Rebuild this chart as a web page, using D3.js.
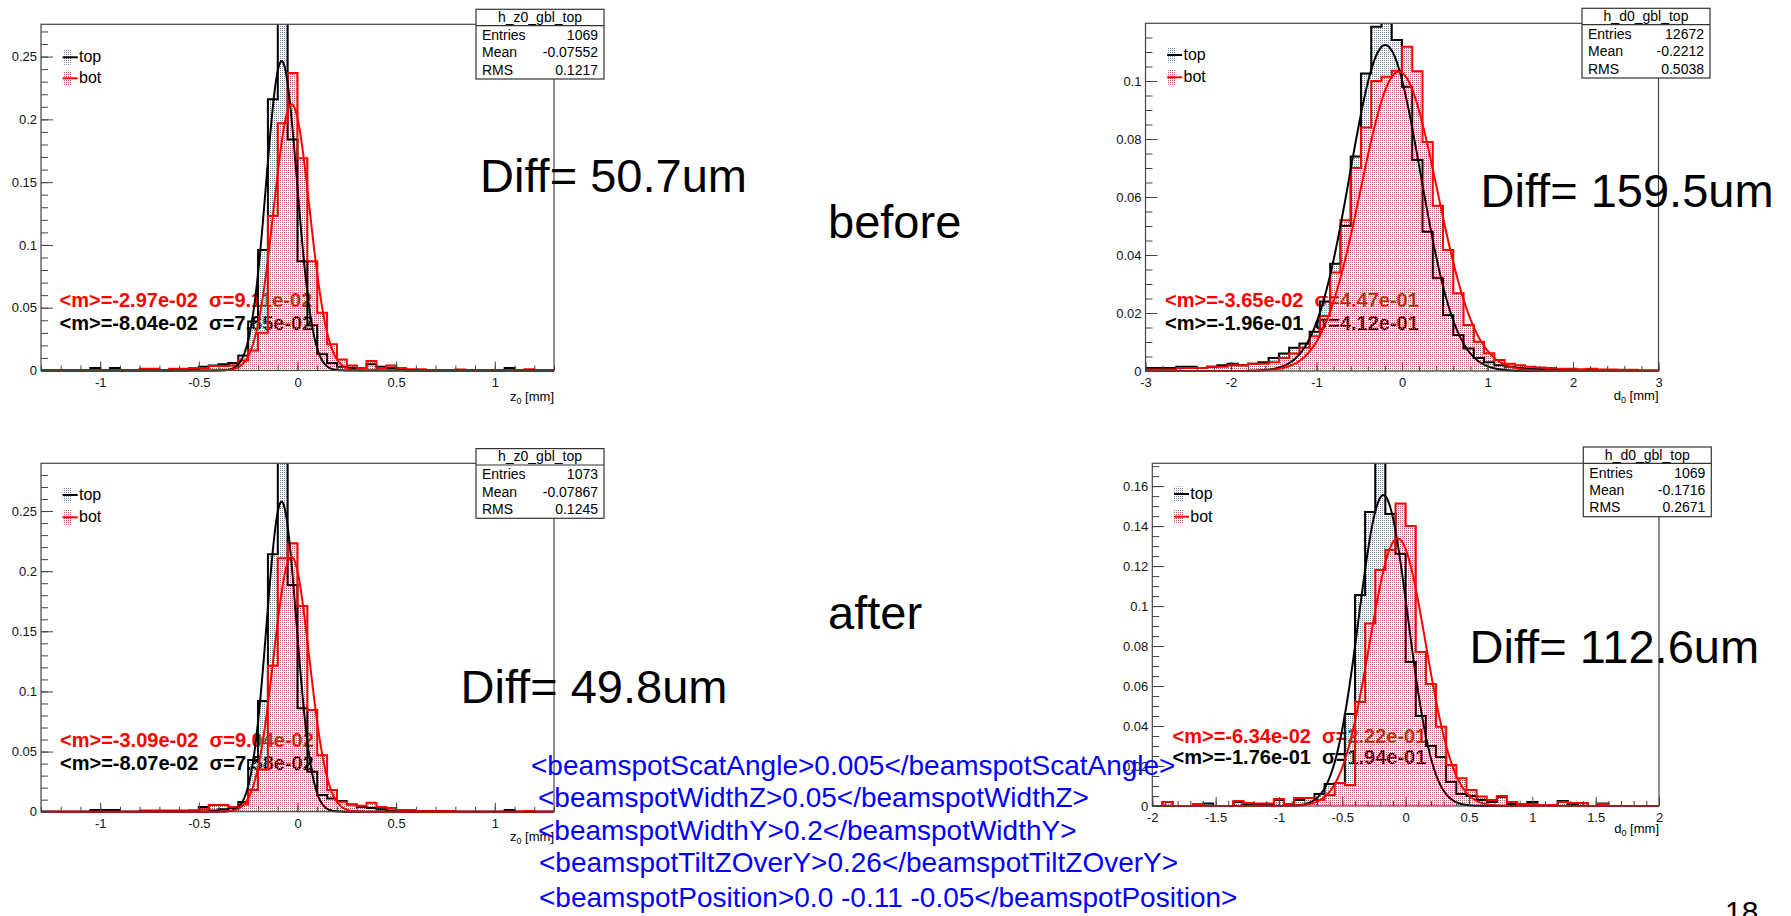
<!DOCTYPE html>
<html>
<head>
<meta charset="utf-8">
<script src="https://cdn.jsdelivr.net/npm/d3@7"></script>
<style>
  body { margin: 0; background: #fff; }
  svg { display: block; font-family: "Liberation Sans", Arial, Helvetica, sans-serif; }
</style>
</head>
<body>
<svg id="slide" width="1791" height="916"></svg>
<script>
// ---------- values ----------
// bin ranges: z0 has 52 bins of 0.05 mm, d0 before 50 bins of 0.12 mm, d0 after 50 bins of 0.08 mm
const z0Range = [-1.3, 1.3];
const d0BeforeRange = [-3, 3];
const d0AfterRange = [-2, 2];

const z0BeforeTop = [
  0, 0, 0, 0, 0, 0.002, 0, 0.002, 0, 0,
  0, 0, 0, 0, 0, 0.001, 0.003, 0.004, 0.005, 0.006,
  0.012, 0.039, 0.096, 0.216, 0.28, 0.184, 0.087, 0.036, 0.013, 0.006,
  0.003, 0.002, 0.002, 0.005, 0.003, 0.002, 0.001, 0, 0, 0,
  0, 0, 0, 0, 0, 0, 0, 0.002, 0, 0,
  0, 0];
const z0BeforeBot = [
  0, 0, 0, 0, 0, 0, 0, 0, 0, 0,
  0.0013, 0.0013, 0, 0.0013, 0.0013, 0.002, 0.002, 0.0035, 0.0035, 0.004,
  0.008, 0.016, 0.03, 0.123, 0.197, 0.237, 0.169, 0.087, 0.046, 0.021,
  0.0087, 0.004, 0.002, 0.0075, 0.002, 0.004, 0.002, 0.001, 0.001, 0,
  0, 0, 0.0008, 0, 0, 0, 0, 0, 0, 0.001,
  0, 0];

const d0BeforeTop = [
  0.001, 0.001, 0.001, 0.0015, 0.0015, 0.001, 0.0015, 0.002, 0.0025, 0.002,
  0.0025, 0.003, 0.0045, 0.006, 0.008, 0.0095, 0.0135, 0.024, 0.037, 0.050,
  0.074, 0.1026, 0.1187, 0.1215, 0.1141, 0.098, 0.0728, 0.048, 0.032, 0.0193,
  0.0124, 0.0078, 0.0045, 0.003, 0.002, 0.0015, 0.001, 0.0008, 0.0006, 0.0005,
  0.0005, 0.0004, 0.0003, 0.0003, 0.0002, 0.0002, 0.0002, 0.0001, 0.0001, 0.0001];
const d0BeforeBot = [
  0.0005, 0.0005, 0.0005, 0.001, 0.001, 0.001, 0.0015, 0.0015, 0.002, 0.002,
  0.0025, 0.0025, 0.003, 0.0045, 0.006, 0.008, 0.012, 0.019, 0.034, 0.052,
  0.070, 0.084, 0.100, 0.1015, 0.1035, 0.1118, 0.1034, 0.079, 0.057, 0.0417,
  0.0268, 0.0159, 0.0101, 0.0061, 0.0038, 0.0025, 0.002, 0.0015, 0.0012, 0.001,
  0.0008, 0.0008, 0.0006, 0.0008, 0.0005, 0.0005, 0.0004, 0.0004, 0.0003, 0.0003];

const z0AfterTop = [
  0, 0, 0, 0, 0, 0.0015, 0.0015, 0.0015, 0, 0,
  0, 0, 0, 0, 0, 0.001, 0.004, 0.001, 0.002, 0.003,
  0.008, 0.043, 0.092, 0.214, 0.295, 0.1885, 0.086, 0.0333, 0.0139, 0.011,
  0.009, 0.006, 0.004, 0.003, 0.002, 0.001, 0, 0, 0, 0,
  0, 0, 0, 0, 0, 0, 0, 0.0015, 0, 0,
  0, 0];
const z0AfterBot = [
  0, 0, 0, 0, 0, 0, 0, 0, 0, 0,
  0.001, 0.001, 0.001, 0.001, 0.001, 0.001, 0.002, 0.0055, 0.0055, 0.004,
  0.006, 0.018, 0.035, 0.1214, 0.2107, 0.2232, 0.171, 0.0846, 0.047, 0.018,
  0.0083, 0.006, 0.005, 0.0075, 0.004, 0.003, 0.0015, 0.0015, 0.0005, 0.0005,
  0.0005, 0.0005, 0, 0, 0, 0, 0, 0, 0, 0.0005,
  0, 0];

const d0AfterTop = [
  0, 0.002, 0, 0, 0, 0.0013, 0, 0, 0.002, 0.001,
  0.001, 0.001, 0.003, 0.001, 0.003, 0.004, 0.006, 0.011, 0.0115, 0.046,
  0.1055, 0.147, 0.176, 0.146, 0.126, 0.072, 0.045, 0.030, 0.0245, 0.012,
  0.006, 0.005, 0.003, 0.002, 0.0045, 0.001, 0.001, 0.002, 0, 0,
  0.0025, 0.001, 0, 0, 0.0013, 0, 0, 0, 0, 0];
const d0AfterBot = [
  0, 0.002, 0, 0, 0.001, 0, 0, 0, 0.0025, 0.0015,
  0.0012, 0.0012, 0.0035, 0.001, 0.004, 0.004, 0.003, 0.0055, 0.0115, 0.0105,
  0.052, 0.0913, 0.118, 0.128, 0.1513, 0.140, 0.077, 0.061, 0.0396, 0.0205,
  0.0139, 0.008, 0.0047, 0.003, 0.005, 0.002, 0.001, 0.001, 0.0005, 0.0005,
  0.002, 0.0015, 0.0015, 0, 0.001, 0, 0, 0, 0, 0];

// gaussian fits: [mean, sigma, amplitude]
const z0BeforeFitTop = [-0.0804, 0.0785, 0.2465];
const z0BeforeFitBot = [-0.0297, 0.0911, 0.212];
const d0BeforeFitTop = [-0.196, 0.412, 0.1124];
const d0BeforeFitBot = [-0.0365, 0.447, 0.1032];
const z0AfterFitTop = [-0.0807, 0.0758, 0.2578];
const z0AfterFitBot = [-0.0309, 0.0904, 0.212];
const d0AfterFitTop = [-0.176, 0.194, 0.1555];
const d0AfterFitBot = [-0.0634, 0.222, 0.1338];

// fit labels as printed on the canvas: [bot (red), top (black)]
const z0BeforeFitText = ["<m>=-2.97e-02  \u03c3=9.11e-02", "<m>=-8.04e-02  \u03c3=7.85e-02"];
const d0BeforeFitText = ["<m>=-3.65e-02  \u03c3=4.47e-01", "<m>=-1.96e-01  \u03c3=4.12e-01"];
const z0AfterFitText  = ["<m>=-3.09e-02  \u03c3=9.04e-02", "<m>=-8.07e-02  \u03c3=7.58e-02"];
const d0AfterFitText  = ["<m>=-6.34e-02  \u03c3=2.22e-01", "<m>=-1.76e-01  \u03c3=1.94e-01"];

// stats boxes: [name, entries, mean, rms]
const z0BeforeStats = ["h_z0_gbl_top", "1069", "-0.07552", "0.1217"];
const d0BeforeStats = ["h_d0_gbl_top", "12672", "-0.2212", "0.5038"];
const z0AfterStats  = ["h_z0_gbl_top", "1073", "-0.07867", "0.1245"];
const d0AfterStats  = ["h_d0_gbl_top", "1069", "-0.1716", "0.2671"];

// tick labels
const z0XTicks = [-1, -0.5, 0, 0.5, 1];
const d0BeforeXTicks = [-3, -2, -1, 0, 1, 2, 3];
const d0AfterXTicks = [-2, -1.5, -1, -0.5, 0, 0.5, 1, 1.5, 2];
const z0YTicks = [0, 0.05, 0.1, 0.15, 0.2, 0.25];
const d0BeforeYTicks = [0, 0.02, 0.04, 0.06, 0.08, 0.1];
const d0AfterYTicks = [0, 0.02, 0.04, 0.06, 0.08, 0.1, 0.12, 0.14, 0.16];

const legendNames = ["top", "bot"];
const diffLabels = ["Diff= 50.7um", "Diff= 159.5um", "Diff= 49.8um", "Diff= 112.6um"];
const stageLabels = ["before", "after"];
const beamspotLines = [
  "<beamspotScatAngle>0.005</beamspotScatAngle>",
  "<beamspotWidthZ>0.05</beamspotWidthZ>",
  "<beamspotWidthY>0.2</beamspotWidthY>",
  "<beamspotTiltZOverY>0.26</beamspotTiltZOverY>",
  "<beamspotPosition>0.0 -0.11 -0.05</beamspotPosition>"
];

// ---------- drawing ----------
const FONT = '"Liberation Sans", Arial, Helvetica, sans-serif';
const svg = d3.select("#slide");
const defs = svg.append("defs");

function addPattern(id, color) {
  const p = defs.append("pattern")
    .attr("id", id)
    .attr("width", 2).attr("height", 2)
    .attr("patternUnits", "userSpaceOnUse");
  p.append("rect").attr("width", 1).attr("height", 1).attr("fill", color);
}
addPattern("dots-top", "#7189a8");
addPattern("dots-bot", "#bf5959");

const panels = [
  { id: "p1", range: z0Range, top: z0BeforeTop, bot: z0BeforeBot,
    fitTop: z0BeforeFitTop, fitBot: z0BeforeFitBot, fitText: z0BeforeFitText,
    stats: z0BeforeStats, axisVar: "z", yMax: 0.2757,
    xTicks: z0XTicks, xMinor: 0.1, yTicks: z0YTicks, yMinor: 0.01,
    frame: { x0: 41, y0: 24.3, x1: 554, y1: 370.5 },
    statsAt: [476, 9.3], legendY: [57.3, 78.3], fitTextAt: [59.5, 307, 329.5], titleY: 401 },
  { id: "p2", range: d0BeforeRange, top: d0BeforeTop, bot: d0BeforeBot,
    fitTop: d0BeforeFitTop, fitBot: d0BeforeFitBot, fitText: d0BeforeFitText,
    stats: d0BeforeStats, axisVar: "d", yMax: 0.1199,
    xTicks: d0BeforeXTicks, xMinor: 0.2, yTicks: d0BeforeYTicks, yMinor: 0.005,
    frame: { x0: 1145.5, y0: 23.3, x1: 1658.5, y1: 371 },
    statsAt: [1582, 8.3], legendY: [55, 77.3], fitTextAt: [1165, 307, 329.5], titleY: 400 },
  { id: "p3", range: z0Range, top: z0AfterTop, bot: z0AfterBot,
    fitTop: z0AfterFitTop, fitBot: z0AfterFitBot, fitText: z0AfterFitText,
    stats: z0AfterStats, axisVar: "z", yMax: 0.2897,
    xTicks: z0XTicks, xMinor: 0.1, yTicks: z0YTicks, yMinor: 0.01,
    frame: { x0: 41, y0: 463.3, x1: 554, y1: 811.7 },
    statsAt: [476, 448.6], legendY: [495, 517.3], fitTextAt: [60, 747, 769.7], titleY: 841 },
  { id: "p4", range: d0AfterRange, top: d0AfterTop, bot: d0AfterBot,
    fitTop: d0AfterFitTop, fitBot: d0AfterFitBot, fitText: d0AfterFitText,
    stats: d0AfterStats, axisVar: "d", yMax: 0.1714,
    xTicks: d0AfterXTicks, xMinor: 0.1, yTicks: d0AfterYTicks, yMinor: 0.005,
    frame: { x0: 1152.3, y0: 463.3, x1: 1659, y1: 806 },
    statsAt: [1583.3, 447], legendY: [494, 516.7], fitTextAt: [1172.5, 743, 763.7], titleY: 833 }
];

function minorTicks(lo, hi, step) {
  return d3.range(Math.ceil(lo / step - 1e-6), Math.floor(hi / step + 1e-6) + 1)
    .map(k => +(k * step).toFixed(6));
}

function styleAxis(sel) {
  sel.attr("font-family", FONT).attr("font-size", 13);
  sel.select(".domain").remove();
  sel.selectAll(".tick line").attr("stroke", "#444");
  sel.selectAll(".tick text").attr("fill", "#111");
}

function drawPanel(p) {
  const f = p.frame;
  const g = svg.append("g").attr("class", "panel " + p.id);
  const x = d3.scaleLinear().domain(p.range).range([f.x0, f.x1]);
  const y = d3.scaleLinear().domain([0, p.yMax]).range([f.y1, f.y0]);

  defs.append("clipPath").attr("id", "clip-" + p.id)
    .append("rect")
    .attr("x", f.x0).attr("y", f.y0)
    .attr("width", f.x1 - f.x0).attr("height", f.y1 - f.y0 + 2);

  // fit results sit underneath the histograms, like on the ROOT canvas
  const fitTextG = g.append("g").attr("font-weight", "bold").attr("font-size", 20);
  fitTextG.append("text").attr("x", p.fitTextAt[0]).attr("y", p.fitTextAt[1])
    .attr("fill", "#f00").attr("xml:space", "preserve").text(p.fitText[0]);
  fitTextG.append("text").attr("x", p.fitTextAt[0]).attr("y", p.fitTextAt[2])
    .attr("fill", "#000").attr("xml:space", "preserve").text(p.fitText[1]);

  const plot = g.append("g").attr("clip-path", `url(#clip-${p.id})`);
  const binW = (p.range[1] - p.range[0]) / p.top.length;
  const steps = vals => vals.map((v, i) => [p.range[0] + i * binW, v])
    .concat([[p.range[1], vals[vals.length - 1]]]);

  const area = d3.area().curve(d3.curveStepAfter)
    .x(d => x(d[0])).y0(y(0)).y1(d => y(d[1]));
  const line = d3.line().curve(d3.curveStepAfter)
    .x(d => x(d[0])).y(d => y(d[1]));

  plot.append("path").attr("d", area(steps(p.top))).attr("fill", "url(#dots-top)");
  plot.append("path").attr("d", area(steps(p.bot))).attr("fill", "url(#dots-bot)");
  plot.append("path").attr("d", line(steps(p.top)))
    .attr("fill", "none").attr("stroke", "#000").attr("stroke-width", 2);
  plot.append("path").attr("d", line(steps(p.bot)))
    .attr("fill", "none").attr("stroke", "#f00").attr("stroke-width", 2);

  // gaussian fit curves
  const xs = d3.range(0, 601).map(k => p.range[0] + k * (p.range[1] - p.range[0]) / 600);
  const gauss = fp => xs.map(v => [v, fp[2] * Math.exp(-0.5 * Math.pow((v - fp[0]) / fp[1], 2))]);
  const curve = d3.line().x(d => x(d[0])).y(d => y(d[1]));
  plot.append("path").attr("d", curve(gauss(p.fitTop)))
    .attr("fill", "none").attr("stroke", "#000").attr("stroke-width", 2);
  plot.append("path").attr("d", curve(gauss(p.fitBot)))
    .attr("fill", "none").attr("stroke", "#f00").attr("stroke-width", 2);

  // axes, ticks pointing into the frame
  const fmt = d => String(d);
  g.append("g").attr("transform", `translate(0,${f.y1})`)
    .call(d3.axisBottom(x).tickValues(minorTicks(p.range[0], p.range[1], p.xMinor))
      .tickSize(-5).tickFormat(""))
    .call(styleAxis);
  g.append("g").attr("transform", `translate(0,${f.y1})`)
    .call(d3.axisBottom(x).tickValues(p.xTicks).tickSize(-9).tickPadding(7).tickFormat(fmt))
    .call(styleAxis);
  g.append("g").attr("transform", `translate(${f.x0},0)`)
    .call(d3.axisLeft(y).tickValues(minorTicks(0, p.yMax, p.yMinor))
      .tickSize(-7).tickFormat(""))
    .call(styleAxis);
  g.append("g").attr("transform", `translate(${f.x0},0)`)
    .call(d3.axisLeft(y).tickValues(p.yTicks).tickSize(-12).tickPadding(4).tickFormat(fmt))
    .call(styleAxis);

  g.append("rect")
    .attr("x", f.x0).attr("y", f.y0)
    .attr("width", f.x1 - f.x0).attr("height", f.y1 - f.y0)
    .attr("fill", "none").attr("stroke", "#444").attr("stroke-width", 1.2);

  // axis title with subscript
  const title = g.append("text")
    .attr("x", f.x1).attr("y", p.titleY)
    .attr("text-anchor", "end").attr("font-size", 13);
  title.append("tspan").text(p.axisVar);
  title.append("tspan").attr("font-size", 9).attr("dy", 3).text("0");
  title.append("tspan").attr("dy", -3).text(" [mm]");

  // stats box
  const [sx, sy] = p.statsAt;
  const sw = 128, sh = 69.7, hh = 16.4;
  const st = g.append("g").attr("font-size", 14);
  st.append("rect").attr("x", sx).attr("y", sy).attr("width", sw).attr("height", sh)
    .attr("fill", "#fff").attr("stroke", "#333").attr("stroke-width", 1.2);
  st.append("line").attr("x1", sx).attr("x2", sx + sw).attr("y1", sy + hh).attr("y2", sy + hh)
    .attr("stroke", "#333").attr("stroke-width", 1.2);
  st.append("text").attr("x", sx + sw / 2).attr("y", sy + 12.5)
    .attr("text-anchor", "middle").text(p.stats[0]);
  ["Entries", "Mean", "RMS"].forEach((name, i) => {
    const by = sy + 30.5 + i * 17.4;
    st.append("text").attr("x", sx + 6).attr("y", by).text(name);
    st.append("text").attr("x", sx + sw - 6).attr("y", by)
      .attr("text-anchor", "end").text(p.stats[i + 1]);
  });

  // legend
  const lg = g.append("g").attr("font-size", 16);
  legendNames.forEach((name, i) => {
    const cy = p.legendY[i];
    const lx = f.x0 + 21.7;
    lg.append("rect").attr("x", lx).attr("y", cy - 7.5).attr("width", 9).attr("height", 15)
      .attr("fill", i === 0 ? "url(#dots-top)" : "url(#dots-bot)");
    lg.append("line").attr("x1", lx).attr("x2", lx + 15).attr("y1", cy).attr("y2", cy)
      .attr("stroke", i === 0 ? "#000" : "#f00").attr("stroke-width", 2);
    lg.append("text").attr("x", f.x0 + 38).attr("y", cy + 5).text(name);
  });
}

panels.forEach(drawPanel);

// ---------- slide annotations ----------
const notes = svg.append("g").attr("font-family", FONT);
const diffAt = [[480, 192], [1480.5, 207], [460.5, 703], [1469.5, 663]];
diffLabels.forEach((t, i) => {
  notes.append("text").attr("x", diffAt[i][0]).attr("y", diffAt[i][1])
    .attr("font-size", 47).text(t);
});
const stageAt = [[828, 238], [828, 629]];
stageLabels.forEach((t, i) => {
  notes.append("text").attr("x", stageAt[i][0]).attr("y", stageAt[i][1])
    .attr("font-size", 47).text(t);
});

const beamX = [531, 538, 538, 539, 539];
const beamY = [775, 807, 840, 872, 907];
beamspotLines.forEach((t, i) => {
  notes.append("text").attr("x", beamX[i]).attr("y", beamY[i])
    .attr("font-size", 28).attr("fill", "#0000ff").text(t);
});

notes.append("text").attr("x", 1725).attr("y", 922).attr("font-size", 30).text("18");
</script>
</body>
</html>
